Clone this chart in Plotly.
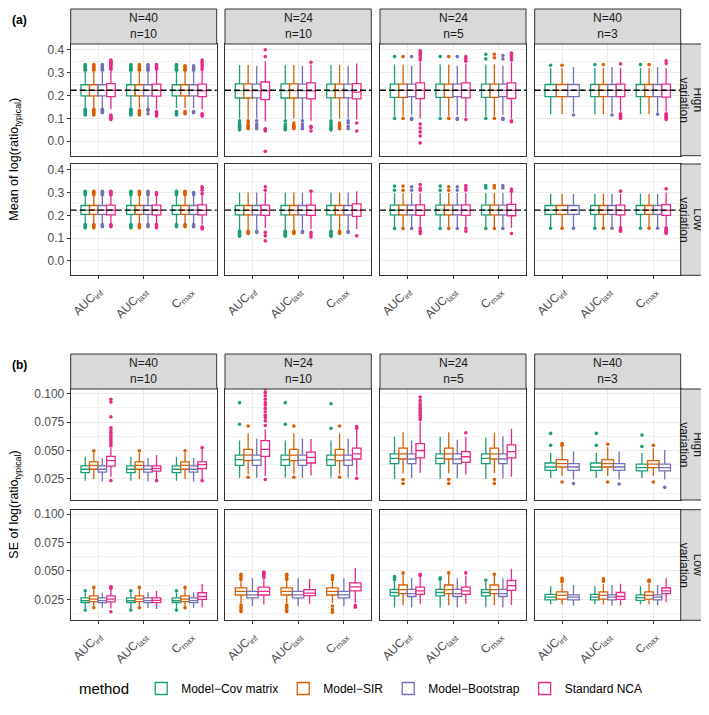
import plotly.graph_objects as go

W, H = 709, 715
FONT = "Liberation Sans, Arial, sans-serif"

METRICS = ["AUCinf", "AUClast", "Cmax"]
METRIC_LABELS = ["AUC<sub>inf</sub>", "AUC<sub>last</sub>", "C<sub>max</sub>"]
METHODS = ["cov", "sir", "boot", "nca"]
METHOD_NAMES = ["Model−Cov matrix", "Model−SIR", "Model−Bootstrap", "Standard NCA"]
METHOD_COLORS = ["#1B9E77", "#D95F02", "#7570B3", "#E7298A"]
DESIGNS = ["N=40<br>n=10", "N=24<br>n=10", "N=24<br>n=5", "N=40<br>n=3"]
VARIATIONS = ["High<br>variation", "Low<br>variation"]
TRUE_LOG_RATIO = 0.223  # log(1.25)

# box stats per method: [lower whisker, q1, median, q3, upper whisker] for AUCinf, AUClast, Cmax
# ---- (a) mean of log(ratio), high variation ----
MEAN_HIGH_N40_n10 = {
    "cov": [[0.145, 0.198, 0.222, 0.247, 0.305], [0.145, 0.198, 0.222, 0.247, 0.305], [0.145, 0.198, 0.222, 0.247, 0.305]],
    "sir": [[0.145, 0.198, 0.222, 0.247, 0.305], [0.145, 0.198, 0.222, 0.247, 0.305], [0.145, 0.198, 0.222, 0.247, 0.305]],
    "boot": [[0.145, 0.198, 0.222, 0.247, 0.305], [0.145, 0.198, 0.222, 0.247, 0.305], [0.145, 0.198, 0.222, 0.247, 0.305]],
    "nca": [[0.14, 0.195, 0.222, 0.252, 0.31], [0.14, 0.197, 0.222, 0.25, 0.31], [0.14, 0.195, 0.22, 0.25, 0.31]],
}
MEAN_HIGH_N40_n10_OUT = {
    "cov": [[0.115, 0.12, 0.125, 0.13, 0.135, 0.14, 0.31, 0.315, 0.32, 0.325, 0.33, 0.335],
            [0.115, 0.12, 0.125, 0.13, 0.135, 0.14, 0.31, 0.315, 0.32, 0.325, 0.33, 0.335],
            [0.115, 0.12, 0.125, 0.13, 0.31, 0.315, 0.32, 0.325, 0.33, 0.335]],
    "sir": [[0.115, 0.12, 0.125, 0.13, 0.135, 0.14, 0.31, 0.315, 0.32, 0.325, 0.33, 0.335],
            [0.115, 0.12, 0.125, 0.13, 0.135, 0.31, 0.315, 0.32, 0.325, 0.33, 0.335],
            [0.12, 0.125, 0.13, 0.31, 0.315, 0.32, 0.325, 0.33]],
    "boot": [[0.125, 0.13, 0.135, 0.14, 0.31, 0.315, 0.32, 0.325, 0.33, 0.335],
             [0.12, 0.135, 0.14, 0.31, 0.315, 0.32, 0.325, 0.33, 0.335],
             [0.125, 0.13, 0.31, 0.315, 0.32, 0.325, 0.33]],
    "nca": [[0.095, 0.1, 0.105, 0.11, 0.115, 0.315, 0.32, 0.325, 0.33, 0.335, 0.34, 0.345, 0.35, 0.355],
            [0.11, 0.115, 0.12, 0.125, 0.13, 0.315, 0.32, 0.325, 0.33, 0.335],
            [0.11, 0.115, 0.12, 0.315, 0.325, 0.335, 0.345, 0.355]],
}
MEAN_HIGH_N24_n10 = {
    "cov": [[0.10, 0.189, 0.221, 0.251, 0.333], [0.10, 0.189, 0.221, 0.251, 0.333], [0.10, 0.19, 0.221, 0.25, 0.333]],
    "sir": [[0.10, 0.189, 0.221, 0.251, 0.333], [0.10, 0.189, 0.221, 0.251, 0.333], [0.10, 0.19, 0.221, 0.25, 0.333]],
    "boot": [[0.10, 0.19, 0.221, 0.25, 0.33], [0.10, 0.19, 0.221, 0.25, 0.33], [0.10, 0.19, 0.221, 0.25, 0.33]],
    "nca": [[0.088, 0.182, 0.22, 0.259, 0.35], [0.09, 0.185, 0.22, 0.255, 0.335], [0.095, 0.185, 0.215, 0.252, 0.34]],
}
MEAN_HIGH_N24_n10_OUT = {
    "cov": [[0.05, 0.055, 0.06, 0.065, 0.07, 0.08, 0.09], [0.05, 0.055, 0.06, 0.065, 0.075, 0.09], [0.05, 0.055, 0.06, 0.07, 0.08, 0.09]],
    "sir": [[0.055, 0.06, 0.065, 0.07, 0.08, 0.09], [0.055, 0.06, 0.065, 0.07, 0.08], [0.055, 0.06, 0.065, 0.07, 0.08]],
    "boot": [[0.055, 0.065, 0.075, 0.09], [0.055, 0.065, 0.075, 0.09], [0.055, 0.065, 0.08, 0.09]],
    "nca": [[-0.044, 0.045, 0.05, 0.055, 0.37, 0.40], [0.045, 0.06, 0.065, 0.345], [0.045, 0.08]],
}
MEAN_HIGH_N24_n5 = {
    "cov": [[0.11, 0.192, 0.222, 0.25, 0.335], [0.11, 0.192, 0.222, 0.25, 0.335], [0.11, 0.192, 0.222, 0.25, 0.335]],
    "sir": [[0.11, 0.192, 0.222, 0.25, 0.335], [0.11, 0.192, 0.222, 0.25, 0.335], [0.11, 0.192, 0.222, 0.25, 0.335]],
    "boot": [[0.115, 0.195, 0.222, 0.25, 0.33], [0.115, 0.195, 0.222, 0.25, 0.33], [0.115, 0.195, 0.222, 0.25, 0.33]],
    "nca": [[0.10, 0.186, 0.222, 0.255, 0.345], [0.105, 0.19, 0.222, 0.255, 0.34], [0.10, 0.187, 0.222, 0.255, 0.345]],
}
MEAN_HIGH_N24_n5_OUT = {
    "cov": [[0.10, 0.37], [0.10, 0.37], [0.10, 0.36, 0.38]],
    "sir": [[0.10, 0.37], [0.10, 0.37], [0.10, 0.365, 0.38]],
    "boot": [[0.095, 0.10, 0.37], [0.095, 0.10, 0.37], [0.095, 0.10, 0.36, 0.375]],
    "nca": [[-0.007, 0.023, 0.041, 0.058, 0.075, 0.355, 0.365, 0.375, 0.385, 0.395],
            [0.095, 0.35, 0.36, 0.37], [0.085, 0.09, 0.355, 0.365, 0.375, 0.385]],
}
MEAN_HIGH_N40_n3 = {
    "cov": [[0.118, 0.195, 0.222, 0.248, 0.32], [0.118, 0.195, 0.222, 0.248, 0.32], [0.118, 0.195, 0.222, 0.248, 0.32]],
    "sir": [[0.118, 0.195, 0.222, 0.248, 0.32], [0.118, 0.195, 0.222, 0.248, 0.32], [0.118, 0.195, 0.222, 0.248, 0.32]],
    "boot": [[0.125, 0.195, 0.222, 0.248, 0.325], [0.125, 0.195, 0.222, 0.248, 0.325], [0.125, 0.195, 0.222, 0.248, 0.325]],
    "nca": [None, [0.13, 0.195, 0.222, 0.25, 0.32], [0.13, 0.193, 0.222, 0.25, 0.32]],
}
MEAN_HIGH_N40_n3_OUT = {
    "cov": [[0.332], [0.335], [0.335]],
    "sir": [[0.332], [0.335], [0.335]],
    "boot": [[0.115], [0.115], [0.118]],
    "nca": [[], [0.10, 0.105, 0.11, 0.115, 0.12, 0.338], [0.095, 0.10, 0.105, 0.11, 0.115, 0.12, 0.34, 0.352]],
}

# ---- (a) mean of log(ratio), low variation ----
MEAN_LOW_N40_n10 = {
    "cov": [[0.165, 0.204, 0.223, 0.243, 0.285], [0.165, 0.204, 0.223, 0.243, 0.285], [0.165, 0.204, 0.223, 0.243, 0.285]],
    "sir": [[0.165, 0.204, 0.223, 0.243, 0.285], [0.165, 0.204, 0.223, 0.243, 0.285], [0.165, 0.204, 0.223, 0.243, 0.285]],
    "boot": [[0.165, 0.204, 0.223, 0.243, 0.285], [0.165, 0.204, 0.223, 0.243, 0.285], [0.165, 0.204, 0.223, 0.243, 0.285]],
    "nca": [[0.163, 0.202, 0.223, 0.245, 0.285], [0.163, 0.202, 0.223, 0.245, 0.285], [0.16, 0.202, 0.222, 0.246, 0.29]],
}
MEAN_LOW_N40_n10_OUT = {
    "cov": [[0.145, 0.15, 0.155, 0.16, 0.29, 0.295, 0.30, 0.305], [0.145, 0.15, 0.155, 0.16, 0.29, 0.295, 0.30, 0.305], [0.15, 0.155, 0.16, 0.29, 0.295, 0.30, 0.305]],
    "sir": [[0.145, 0.15, 0.155, 0.16, 0.29, 0.295, 0.30, 0.305], [0.145, 0.15, 0.155, 0.16, 0.29, 0.295, 0.30, 0.305], [0.15, 0.155, 0.16, 0.29, 0.295, 0.30, 0.305]],
    "boot": [[0.15, 0.155, 0.16, 0.29, 0.295, 0.30, 0.305], [0.15, 0.155, 0.16, 0.29, 0.295, 0.30, 0.305], [0.15, 0.155, 0.16, 0.29, 0.295, 0.30]],
    "nca": [[0.15, 0.155, 0.16, 0.29, 0.295, 0.30, 0.305], [0.145, 0.15, 0.155, 0.16, 0.29, 0.295, 0.30], [0.14, 0.145, 0.15, 0.295, 0.31, 0.32, 0.325]],
}
MEAN_LOW_N24_n10 = {
    "cov": [[0.135, 0.202, 0.222, 0.243, 0.30], [0.135, 0.202, 0.222, 0.243, 0.30], [0.135, 0.202, 0.222, 0.243, 0.30]],
    "sir": [[0.135, 0.202, 0.222, 0.243, 0.30], [0.135, 0.202, 0.222, 0.243, 0.30], [0.135, 0.202, 0.222, 0.243, 0.30]],
    "boot": [[0.138, 0.202, 0.222, 0.243, 0.30], [0.138, 0.202, 0.222, 0.243, 0.30], [0.138, 0.202, 0.222, 0.243, 0.30]],
    "nca": [[0.145, 0.20, 0.222, 0.245, 0.30], [0.14, 0.20, 0.222, 0.245, 0.30], [0.14, 0.195, 0.222, 0.25, 0.305]],
}
MEAN_LOW_N24_n10_OUT = {
    "cov": [[0.108, 0.112, 0.116, 0.12, 0.125, 0.13], [0.108, 0.112, 0.116, 0.12, 0.125, 0.13], [0.108, 0.112, 0.116, 0.12, 0.125, 0.13]],
    "sir": [[0.12, 0.125, 0.13], [0.12, 0.125, 0.13], [0.12, 0.125, 0.13]],
    "boot": [[0.125, 0.13], [0.125, 0.13], [0.125, 0.13]],
    "nca": [[0.088, 0.11, 0.125, 0.31, 0.325], [0.105, 0.115, 0.125, 0.306], [0.11]],
}
MEAN_LOW_N24_n5 = {
    "cov": [[0.148, 0.202, 0.223, 0.245, 0.298], [0.148, 0.202, 0.223, 0.245, 0.298], [0.148, 0.202, 0.223, 0.245, 0.298]],
    "sir": [[0.148, 0.202, 0.223, 0.245, 0.298], [0.148, 0.202, 0.223, 0.245, 0.298], [0.148, 0.202, 0.223, 0.245, 0.298]],
    "boot": [[0.148, 0.202, 0.223, 0.245, 0.298], [0.148, 0.202, 0.223, 0.245, 0.298], [0.148, 0.202, 0.223, 0.245, 0.298]],
    "nca": [[0.145, 0.20, 0.222, 0.246, 0.298], [0.145, 0.20, 0.222, 0.246, 0.298], [0.145, 0.198, 0.222, 0.248, 0.298]],
}
MEAN_LOW_N24_n5_OUT = {
    "cov": [[0.142, 0.31, 0.328], [0.142, 0.31, 0.328], [0.142, 0.32, 0.33]],
    "sir": [[0.142, 0.31, 0.328], [0.142, 0.31, 0.325], [0.142, 0.32, 0.33]],
    "boot": [[0.142, 0.31, 0.325], [0.142, 0.31, 0.325], [0.142, 0.32, 0.33]],
    "nca": [[0.12, 0.13, 0.142, 0.31, 0.32, 0.335], [0.13, 0.142, 0.31, 0.32, 0.33], [0.12, 0.305, 0.315]],
}
MEAN_LOW_N40_n3 = {
    "cov": [[0.148, 0.204, 0.223, 0.243, 0.295], [0.148, 0.204, 0.223, 0.243, 0.295], [0.148, 0.204, 0.223, 0.243, 0.295]],
    "sir": [[0.148, 0.204, 0.223, 0.243, 0.295], [0.148, 0.204, 0.223, 0.243, 0.295], [0.148, 0.204, 0.223, 0.243, 0.295]],
    "boot": [[0.148, 0.204, 0.223, 0.243, 0.295], [0.148, 0.204, 0.223, 0.243, 0.295], [0.148, 0.204, 0.223, 0.243, 0.295]],
    "nca": [None, [0.15, 0.202, 0.222, 0.245, 0.295], [0.15, 0.20, 0.222, 0.247, 0.30]],
}
MEAN_LOW_N40_n3_OUT = {
    "cov": [[0.143], [0.143], [0.143]],
    "sir": [[0.143], [0.143], [0.143]],
    "boot": [[0.143], [0.143], [0.143]],
    "nca": [[], [0.13, 0.135, 0.14, 0.145, 0.306], [0.12, 0.125, 0.13, 0.135, 0.14, 0.145, 0.316]],
}

# ---- (b) SE of log(ratio), high variation ----
SE_HIGH_N40_n10 = {
    "cov": [[0.0235, 0.0305, 0.0335, 0.0365, 0.0445], [0.0235, 0.0305, 0.0335, 0.0365, 0.0445], [0.0235, 0.0305, 0.0335, 0.0365, 0.0445]],
    "sir": [[0.025, 0.0335, 0.037, 0.040, 0.048], [0.025, 0.0335, 0.037, 0.040, 0.048], [0.025, 0.0335, 0.037, 0.040, 0.048]],
    "boot": [[0.023, 0.031, 0.0335, 0.0365, 0.0435], [0.023, 0.031, 0.0335, 0.0365, 0.0435], [0.023, 0.031, 0.0335, 0.0365, 0.0435]],
    "nca": [[0.027, 0.0362, 0.041, 0.0449, 0.052], [0.025, 0.0318, 0.0343, 0.0365, 0.046], [0.025, 0.034, 0.0375, 0.040, 0.051]],
}
SE_HIGH_N40_n10_OUT = {
    "cov": [[], [], []],
    "sir": [[0.0498], [0.0498], [0.0498]],
    "boot": [[], [], []],
    "nca": [[0.0235, 0.054, 0.056, 0.058, 0.06, 0.062, 0.064, 0.066, 0.068, 0.070, 0.0795, 0.0925, 0.095],
            [0.0235], [0.0235, 0.0525]],
}
SE_HIGH_N24_n10 = {
    "cov": [[0.026, 0.037, 0.042, 0.046, 0.0587], [0.026, 0.037, 0.042, 0.046, 0.0587], [0.026, 0.037, 0.042, 0.046, 0.0587]],
    "sir": [[0.029, 0.041, 0.046, 0.051, 0.065], [0.029, 0.041, 0.046, 0.051, 0.065], [0.029, 0.041, 0.046, 0.051, 0.065]],
    "boot": [[0.026, 0.037, 0.0415, 0.046, 0.0605], [0.026, 0.037, 0.0415, 0.046, 0.0605], [0.026, 0.037, 0.0415, 0.046, 0.0605]],
    "nca": [[0.0275, 0.0449, 0.051, 0.0587, 0.0685], [0.028, 0.039, 0.044, 0.0485, 0.060], [0.028, 0.0425, 0.047, 0.052, 0.068]],
}
SE_HIGH_N24_n10_OUT = {
    "cov": [[0.073, 0.092], [0.073, 0.092], [0.0695, 0.091]],
    "sir": [[0.0265, 0.0715], [0.0265, 0.0715], [0.0265, 0.0715]],
    "boot": [[], [], []],
    "nca": [[0.0245, 0.072, 0.076, 0.079, 0.081, 0.084, 0.087, 0.09, 0.092, 0.095, 0.098, 0.101, 0.104],
            [], [0.0255, 0.0695, 0.071]],
}
SE_HIGH_N24_n5 = {
    "cov": [[0.025, 0.0385, 0.043, 0.047, 0.062], [0.025, 0.0385, 0.043, 0.047, 0.062], [0.025, 0.0385, 0.043, 0.047, 0.0615]],
    "sir": [[0.030, 0.0425, 0.047, 0.052, 0.066], [0.030, 0.0425, 0.047, 0.052, 0.066], [0.030, 0.0425, 0.047, 0.052, 0.0655]],
    "boot": [[0.0256, 0.0385, 0.0425, 0.047, 0.059], [0.0256, 0.0385, 0.0425, 0.047, 0.0595], [0.0256, 0.0385, 0.0425, 0.047, 0.0625]],
    "nca": [[0.0305, 0.0435, 0.050, 0.056, 0.075], [0.029, 0.0395, 0.0445, 0.049, 0.062], [0.027, 0.0435, 0.049, 0.055, 0.069]],
}
SE_HIGH_N24_n5_OUT = {
    "cov": [[], [], []],
    "sir": [[0.021, 0.0245], [0.021, 0.0245], [0.021, 0.0245]],
    "boot": [[], [], []],
    "nca": [[0.077, 0.079, 0.081, 0.083, 0.085, 0.087, 0.089, 0.091, 0.094, 0.097], [0.0655], []],
}
SE_HIGH_N40_n3 = {
    "cov": [[0.0258, 0.0325, 0.0355, 0.039, 0.048], [0.0258, 0.0325, 0.0355, 0.039, 0.048], [0.0258, 0.032, 0.035, 0.038, 0.048]],
    "sir": [[0.0275, 0.0355, 0.0385, 0.042, 0.053], [0.0275, 0.0355, 0.0385, 0.042, 0.053], [0.0275, 0.035, 0.038, 0.041, 0.052]],
    "boot": [[0.0245, 0.0325, 0.0355, 0.0385, 0.049], [0.0245, 0.0325, 0.0355, 0.0385, 0.049], [0.0245, 0.032, 0.035, 0.038, 0.0505]],
    "nca": [None, [0.024, 0.0345, 0.037, 0.0395, 0.0505], [0.0255, 0.0355, 0.0385, 0.0425, 0.0545]],
}
SE_HIGH_N40_n3_OUT = {
    "cov": [[0.0545, 0.065], [0.0545, 0.065], [0.0535, 0.0635]],
    "sir": [[0.0223, 0.0545, 0.056], [0.0223, 0.0555], [0.0223, 0.0545]],
    "boot": [[0.021], [0.0205], [0.0176]],
    "nca": [[], [], [0.024, 0.025]],
}

# ---- (b) SE of log(ratio), low variation ----
SE_LOW_N40_n10 = {
    "cov": [[0.017, 0.0222, 0.0238, 0.0262, 0.031], [0.017, 0.0222, 0.0238, 0.0262, 0.031], [0.017, 0.0222, 0.0238, 0.0262, 0.031]],
    "sir": [[0.0185, 0.023, 0.0252, 0.028, 0.0345], [0.0185, 0.023, 0.0252, 0.028, 0.0345], [0.0185, 0.023, 0.0252, 0.028, 0.0345]],
    "boot": [[0.0175, 0.022, 0.0238, 0.0262, 0.031], [0.0175, 0.022, 0.0238, 0.0262, 0.031], [0.0175, 0.022, 0.0238, 0.0262, 0.031]],
    "nca": [[0.017, 0.0228, 0.0252, 0.028, 0.0335], [0.0165, 0.022, 0.024, 0.0262, 0.0325], [0.0178, 0.025, 0.0275, 0.0308, 0.0385]],
}
SE_LOW_N40_n10_OUT = {
    "cov": [[0.0155, 0.0325], [0.0155, 0.0325], [0.0155, 0.0325]],
    "sir": [[0.0175, 0.0355], [0.0175, 0.0355], [0.0175, 0.0355]],
    "boot": [[], [], []],
    "nca": [[0.014, 0.0345, 0.0355, 0.036], [], []],
}
SE_LOW_N24_n10 = {
    "cov": [[0.0195, 0.0265, 0.0292, 0.0322, 0.041], [0.0195, 0.0265, 0.0292, 0.0322, 0.041], [0.0195, 0.0265, 0.0292, 0.0322, 0.041]],
    "sir": [[0.0215, 0.0288, 0.032, 0.035, 0.041], [0.0215, 0.0288, 0.032, 0.035, 0.041], [0.0215, 0.0288, 0.032, 0.035, 0.041]],
    "boot": [[0.019, 0.0262, 0.029, 0.032, 0.0435], [0.019, 0.0262, 0.029, 0.032, 0.0435], [0.019, 0.0262, 0.029, 0.032, 0.0435]],
    "nca": [[0.0205, 0.0288, 0.032, 0.0358, 0.043], [0.021, 0.0282, 0.0305, 0.0335, 0.043], [0.0215, 0.0325, 0.036, 0.0395, 0.0525]],
}
SE_LOW_N24_n10_OUT = {
    "cov": [[], [], [0.0165]],
    "sir": [[0.0142, 0.016, 0.018, 0.020, 0.0425, 0.044, 0.046, 0.047],
            [0.0142, 0.016, 0.018, 0.020, 0.0425, 0.044, 0.046, 0.047],
            [0.0135, 0.016, 0.019, 0.0425, 0.044, 0.046]],
    "boot": [[], [], []],
    "nca": [[0.0445, 0.046, 0.047, 0.048, 0.049], [], [0.018, 0.0195]],
}
SE_LOW_N24_n5 = {
    "cov": [[0.0178, 0.028, 0.031, 0.0337, 0.041], [0.0178, 0.028, 0.031, 0.0337, 0.041], [0.0178, 0.028, 0.031, 0.0335, 0.041]],
    "sir": [[0.0198, 0.030, 0.0335, 0.0376, 0.047], [0.0198, 0.030, 0.0335, 0.0376, 0.047], [0.0198, 0.030, 0.0335, 0.0376, 0.046]],
    "boot": [[0.0177, 0.0275, 0.030, 0.0337, 0.0435], [0.0177, 0.0275, 0.030, 0.0337, 0.0435], [0.0177, 0.0275, 0.030, 0.0337, 0.0435]],
    "nca": [[0.0208, 0.0294, 0.0325, 0.0358, 0.045], [0.021, 0.0294, 0.0325, 0.0358, 0.046], [0.020, 0.0329, 0.037, 0.0416, 0.0519]],
}
SE_LOW_N24_n5_OUT = {
    "cov": [[0.0425, 0.044, 0.045], [0.0425, 0.044], [0.042]],
    "sir": [[0.0483], [0.0483], [0.047]],
    "boot": [[], [], []],
    "nca": [[0.046, 0.047], [0.0483], []],
}
SE_LOW_N40_n3 = {
    "cov": [[0.0205, 0.0245, 0.027, 0.0293, 0.0365], [0.0205, 0.0245, 0.027, 0.0293, 0.0365], [0.0205, 0.024, 0.0265, 0.029, 0.0365]],
    "sir": [[0.0205, 0.0252, 0.0285, 0.0315, 0.0385], [0.0205, 0.0252, 0.0285, 0.0315, 0.0385], [0.0205, 0.0252, 0.0285, 0.0315, 0.0385]],
    "boot": [[0.0195, 0.0245, 0.027, 0.029, 0.0376], [0.0195, 0.0245, 0.027, 0.029, 0.0376], [0.0195, 0.0245, 0.027, 0.029, 0.0376]],
    "nca": [None, [0.0195, 0.025, 0.0275, 0.031, 0.0387], [0.0225, 0.030, 0.0325, 0.0352, 0.0435]],
}
SE_LOW_N40_n3_OUT = {
    "cov": [[], [], []],
    "sir": [[0.0405, 0.042, 0.0435], [0.041, 0.043], [0.0405, 0.0415, 0.042]],
    "boot": [[], [], []],
    "nca": [[], [], []],
}

MEAN_ROWS = [[MEAN_HIGH_N40_n10, MEAN_HIGH_N24_n10, MEAN_HIGH_N24_n5, MEAN_HIGH_N40_n3],
             [MEAN_LOW_N40_n10, MEAN_LOW_N24_n10, MEAN_LOW_N24_n5, MEAN_LOW_N40_n3]]
MEAN_ROWS_OUT = [[MEAN_HIGH_N40_n10_OUT, MEAN_HIGH_N24_n10_OUT, MEAN_HIGH_N24_n5_OUT, MEAN_HIGH_N40_n3_OUT],
                 [MEAN_LOW_N40_n10_OUT, MEAN_LOW_N24_n10_OUT, MEAN_LOW_N24_n5_OUT, MEAN_LOW_N40_n3_OUT]]
SE_ROWS = [[SE_HIGH_N40_n10, SE_HIGH_N24_n10, SE_HIGH_N24_n5, SE_HIGH_N40_n3],
           [SE_LOW_N40_n10, SE_LOW_N24_n10, SE_LOW_N24_n5, SE_LOW_N40_n3]]
SE_ROWS_OUT = [[SE_HIGH_N40_n10_OUT, SE_HIGH_N24_n10_OUT, SE_HIGH_N24_n5_OUT, SE_HIGH_N40_n3_OUT],
               [SE_LOW_N40_n10_OUT, SE_LOW_N24_n10_OUT, SE_LOW_N24_n5_OUT, SE_LOW_N40_n3_OUT]]

# ---- page geometry (pixels) ----
COL_PX = [(62.7, 208.7), (217.0, 363.3), (372.0, 518.0), (526.7, 672.7)]
ROW_PX = [[(36.0, 147.7), (156.0, 267.3)], [(381.0, 492.0), (501.7, 612.3)]]
STRIP_TOP = [1.0, 346.0]
RIGHT_STRIP = (672.7, 708.0)
ROT_SHIFT = 7.0  # plotly draws 90-degree rotated annotations ~half a line to the right

PANELS = [
    dict(rows=MEAN_ROWS, outs=MEAN_ROWS_OUT, yrange=[-0.063, 0.425], dtick=0.1, minor=0.05,
         fmt=".1f", title="Mean of log(ratio<sub>typical</sub>)", tag="(a)", hline=True),
    dict(rows=SE_ROWS, outs=SE_ROWS_OUT, yrange=[0.0065, 0.104], dtick=0.025, minor=0.0125,
         fmt=".3f", title="SE of log(ratio<sub>typical</sub>)", tag="(b)", hline=False),
]

GRID = "#EBEBEB"
FRAME = "#333333"


def fx(px):
    return px / W


def fy(py):
    return 1 - py / H


def label(text, x, y, size=12, color="#1A1A1A", angle=0, xanchor="center"):
    return dict(text=text, xref="paper", yref="paper", x=x, y=y, textangle=angle,
                xanchor=xanchor, yanchor="middle", showarrow=False,
                font=dict(size=size, color=color))


fig = go.Figure()
shapes, annotations, axes = [], [], {}
legend_done = set()
k = 0
for p, panel in enumerate(PANELS):
    for r in range(2):
        y0, y1 = ROW_PX[p][r]
        for c in range(4):
            k += 1
            x0, x1 = COL_PX[c]
            xref, yref = ("x", "y") if k == 1 else (f"x{k}", f"y{k}")
            box, out = panel["rows"][r][c], panel["outs"][r][c]
            # metrics with a missing method get their own dodge group (ggplot dodges by present boxes)
            counts = [sum(box[m][i] is not None for m in METHODS) for i in range(3)]
            for mi, m in enumerate(METHODS):
                for n in sorted(set(counts)):
                    idx = [i for i in range(3) if counts[i] == n and box[m][i] is not None]
                    if not idx:
                        continue
                    pts = [out[m][i] for i in idx]
                    show = m not in legend_done
                    legend_done.add(m)
                    fig.add_trace(go.Box(
                        x=[METRICS[i] for i in idx],
                        y=pts if any(pts) else None,
                        lowerfence=[box[m][i][0] for i in idx],
                        q1=[box[m][i][1] for i in idx],
                        median=[box[m][i][2] for i in idx],
                        q3=[box[m][i][3] for i in idx],
                        upperfence=[box[m][i][4] for i in idx],
                        orientation="v", boxpoints="outliers", jitter=0, pointpos=0,
                        name=METHOD_NAMES[mi], legendgroup=m, showlegend=show,
                        alignmentgroup=f"{k}-{n}", offsetgroup=m,
                        line=dict(color=METHOD_COLORS[mi], width=1.3),
                        fillcolor="white", whiskerwidth=0,
                        marker=dict(color=METHOD_COLORS[mi], size=3.6, line=dict(width=0)),
                        hoverinfo="skip", xaxis=xref, yaxis=yref,
                    ))
            bottom = r == 1
            axes["xaxis" if k == 1 else f"xaxis{k}"] = dict(
                domain=[fx(x0), fx(x1)], anchor=yref, type="category",
                categoryorder="array", categoryarray=METRICS, range=[-0.6, 2.6],
                tickvals=METRICS, ticktext=METRIC_LABELS, showticklabels=bottom,
                tickangle=-45, ticks="outside" if bottom else "", ticklen=3,
                tickcolor=FRAME, tickfont=dict(size=12, color="#4D4D4D"),
                showgrid=True, gridcolor=GRID, gridwidth=1,
                showline=True, mirror=True, linecolor=FRAME, linewidth=1, zeroline=False,
            )
            axes["yaxis" if k == 1 else f"yaxis{k}"] = dict(
                domain=[fy(y1), fy(y0)], anchor=xref, range=panel["yrange"],
                tick0=0, dtick=panel["dtick"], tickformat=panel["fmt"],
                showticklabels=c == 0, ticks="outside" if c == 0 else "", ticklen=3,
                tickcolor=FRAME, tickfont=dict(size=12, color="#4D4D4D"),
                showgrid=True, gridcolor=GRID, gridwidth=1,
                minor=dict(dtick=panel["minor"], tick0=0, showgrid=True,
                           gridcolor="#F2F2F2", gridwidth=0.6, ticks=""),
                showline=True, mirror=True, linecolor=FRAME, linewidth=1, zeroline=False,
            )
            if panel["hline"]:
                shapes.append(dict(type="line", xref=f"{xref} domain", x0=0, x1=1,
                                   yref=yref, y0=TRUE_LOG_RATIO, y1=TRUE_LOG_RATIO,
                                   line=dict(color="black", width=1.3, dash="6px,3px"),
                                   layer="above"))
            if r == 0:
                shapes.append(dict(type="rect", xref="paper", yref="paper",
                                   x0=fx(x0), x1=fx(x1), y0=fy(y0), y1=fy(STRIP_TOP[p]),
                                   fillcolor="#D9D9D9", line=dict(color=FRAME, width=1)))
                annotations.append(label(DESIGNS[c], fx((x0 + x1) / 2),
                                         fy((y0 + STRIP_TOP[p]) / 2)))
        shapes.append(dict(type="rect", xref="paper", yref="paper",
                           x0=fx(RIGHT_STRIP[0]), x1=fx(RIGHT_STRIP[1]), y0=fy(y1), y1=fy(y0),
                           fillcolor="#D9D9D9", line=dict(color=FRAME, width=1)))
        # rotated strip label: one annotation per line (first line on the right)
        xc = sum(RIGHT_STRIP) / 2 - ROT_SHIFT
        for j, line in enumerate(VARIATIONS[r].split("<br>")):
            annotations.append(label(line, fx(xc + 7 - 14 * j), fy((y0 + y1) / 2), angle=90))
    top, bot = ROW_PX[p][0][0], ROW_PX[p][1][1]
    annotations.append(label(panel["title"], fx(14 - ROT_SHIFT), fy((top + bot) / 2),
                             size=12.5, color="black", angle=-90))
    annotations.append(label(f"<b>{panel['tag']}</b>", fx(2), fy(STRIP_TOP[p] + 11),
                             color="black", xanchor="left"))

fig.update_layout(
    width=W, height=H, template="none",
    margin=dict(l=0, r=0, t=0, b=0),
    paper_bgcolor="white", plot_bgcolor="white",
    font=dict(family=FONT, size=12, color="#1A1A1A"),
    boxmode="group", boxgap=0.25, boxgroupgap=0,
    shapes=shapes, annotations=annotations,
    legend=dict(orientation="h", x=0.5, xanchor="center", y=fy(681), yanchor="middle",
                title=dict(text="method ", font=dict(size=15, color="black")),
                font=dict(size=12, color="black"), bgcolor="rgba(0,0,0,0)"),
    **axes,
)

fig.write_html("out.html")
